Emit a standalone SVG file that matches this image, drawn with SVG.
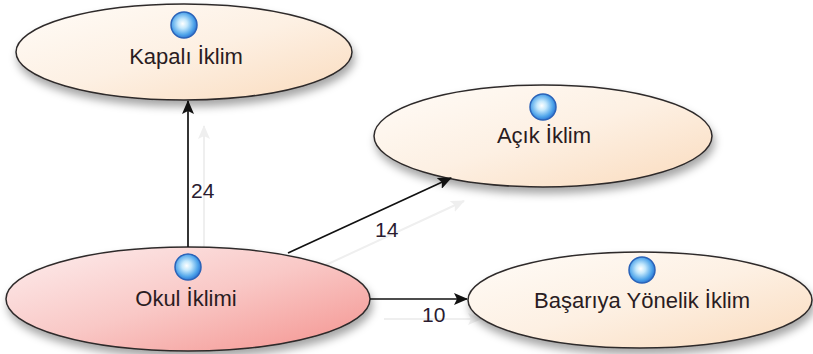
<svg xmlns="http://www.w3.org/2000/svg" width="813" height="354" viewBox="0 0 813 354">
  <style>
    .node { stroke: #2e2a2a; stroke-width: 1.5; }
    .peach { fill: url(#peachFill); }
    .rose { fill: url(#roseFill); }
    .label { font-family: "Liberation Sans", Arial, sans-serif; font-size: 22px; fill: #2a1c22; text-anchor: middle; }
    .num { font-family: "Liberation Sans", Arial, sans-serif; font-size: 21px; fill: #2a1c30; }
    .edge { stroke: #111; stroke-width: 1.7; fill: none; marker-end: url(#arrow); }
    .edge-shadow { stroke: #efefef; stroke-width: 2; fill: none; marker-end: url(#arrowShadow); }
    .globe { fill: url(#globeFill); stroke: #2b63b8; stroke-width: 1.5; }
  </style>
  <defs>
    <linearGradient id="peachFill" x1="0" y1="0" x2="1" y2="1">
      <stop offset="0" stop-color="#fffcf8"/>
      <stop offset="0.5" stop-color="#fdf0e3"/>
      <stop offset="1" stop-color="#fadbbd"/>
    </linearGradient>
    <linearGradient id="roseFill" x1="0" y1="0" x2="1" y2="1">
      <stop offset="0" stop-color="#fdeeee"/>
      <stop offset="0.5" stop-color="#f9c8c6"/>
      <stop offset="1" stop-color="#f4928e"/>
    </linearGradient>
    <radialGradient id="globeFill" cx="0.45" cy="0.45" r="0.6">
      <stop offset="0" stop-color="#ffffff"/>
      <stop offset="0.3" stop-color="#c4e8fc"/>
      <stop offset="0.72" stop-color="#4ea4ea"/>
      <stop offset="1" stop-color="#2467cc"/>
    </radialGradient>
    <filter id="softShadow" x="-10%" y="-20%" width="120%" height="150%">
      <feDropShadow dx="2" dy="6" stdDeviation="4" flood-color="#000" flood-opacity="0.35"/>
    </filter>
    <marker id="arrow" viewBox="0 0 14 12" refX="13" refY="6" markerWidth="14" markerHeight="12" markerUnits="userSpaceOnUse" orient="auto">
      <path d="M0,0 L14,6 L0,12 L3,6 z" fill="#111"/>
    </marker>
    <marker id="arrowShadow" viewBox="0 0 14 12" refX="13" refY="6" markerWidth="14" markerHeight="12" markerUnits="userSpaceOnUse" orient="auto">
      <path d="M0,0 L14,6 L0,12 L3,6 z" fill="#efefef"/>
    </marker>
  </defs>

  <!-- faint connector shadows -->
  <g id="connector-shadows">
    <line class="edge-shadow" x1="204" y1="270" x2="204" y2="126"/>
    <line class="edge-shadow" x1="302" y1="276" x2="464" y2="201"/>
    <line class="edge-shadow" x1="384" y1="319" x2="481" y2="319"/>
  </g>

  <g id="kapali-iklim">
    <ellipse class="node peach" cx="184" cy="52" rx="168" ry="48" filter="url(#softShadow)"/>
    <circle class="globe" cx="184" cy="25" r="13"/>
    <text class="label" x="186" y="64">Kapalı İklim</text>
  </g>

  <g id="acik-iklim">
    <ellipse class="node peach" cx="543" cy="136" rx="169" ry="51" filter="url(#softShadow)"/>
    <circle class="globe" cx="543" cy="107" r="13"/>
    <text class="label" x="544" y="143">Açık İklim</text>
  </g>

  <g id="okul-iklimi">
    <ellipse class="node rose" cx="188" cy="299" rx="182" ry="52" filter="url(#softShadow)"/>
    <circle class="globe" cx="188" cy="267" r="13"/>
    <text class="label" x="186" y="306">Okul İklimi</text>
  </g>

  <g id="basariya-yonelik-iklim">
    <ellipse class="node peach" cx="640" cy="300" rx="172" ry="48" filter="url(#softShadow)"/>
    <circle class="globe" cx="642" cy="270" r="13"/>
    <text class="label" x="642" y="308">Başarıya Yönelik İklim</text>
  </g>

  <g id="connectors">
    <line class="edge" x1="188" y1="247" x2="188" y2="101"/>
    <line class="edge" x1="288" y1="253" x2="451" y2="178"/>
    <line class="edge" x1="370" y1="299" x2="467" y2="299"/>
    <text class="num" x="191" y="198">24</text>
    <text class="num" x="375" y="237">14</text>
    <text class="num" x="422" y="322">10</text>
  </g>
</svg>
